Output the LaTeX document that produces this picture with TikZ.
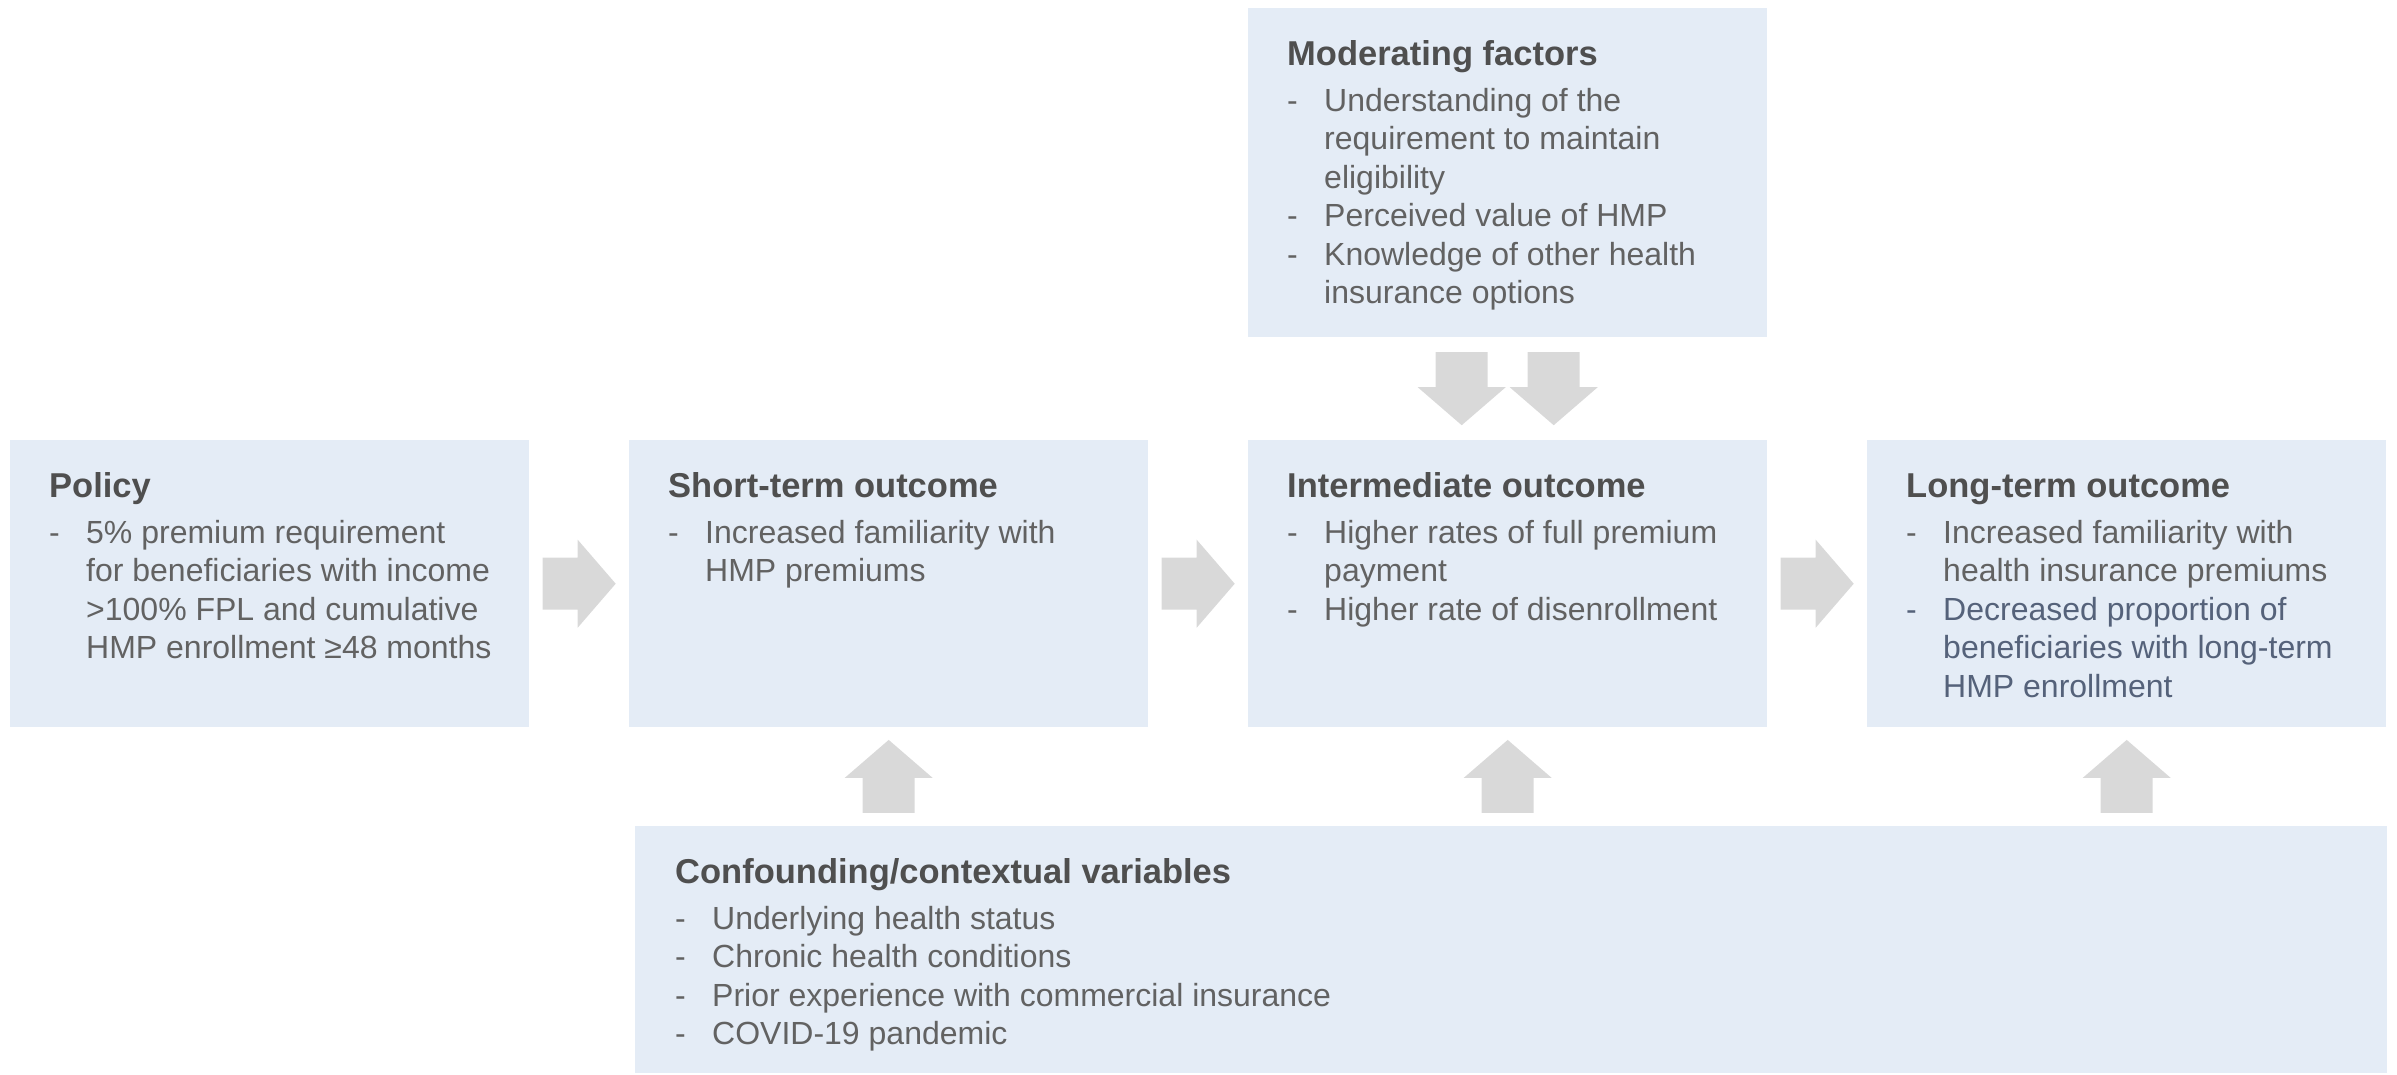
\documentclass[tikz,border=0pt]{standalone}
\usepackage{fontspec}
\setmainfont{Liberation Sans}
\usetikzlibrary{calc}
\definecolor{boxblue}{HTML}{E4ECF6}
\definecolor{arrgray}{HTML}{D9D9D9}
\definecolor{txtgray}{HTML}{626262}
\definecolor{hdgray}{HTML}{4F4F4F}
\definecolor{bluegray}{HTML}{55627A}
\newcommand\hd[1]{\multicolumn{2}{@{}l@{}}{\color{hdgray}\fontsize{34.5}{38.5}\selectfont\bfseries #1}}
\newcommand\dsh{\makebox[37pt][l]{-}}
\newcommand\rarr[1]{\fill[arrgray, shift={(#1)}] (-36.5,-26) -- (-1.5,-26) -- (-1.5,-44) -- (36.5,0) -- (-1.5,44) -- (-1.5,26) -- (-36.5,26) -- cycle;}
\newcommand\darr[1]{\fill[arrgray, shift={(#1)}] (-26,-36.5) -- (-26,-1.5) -- (-44,-1.5) -- (0,36.5) -- (44,-1.5) -- (26,-1.5) -- (26,-36.5) -- cycle;}
\newcommand\uarr[1]{\fill[arrgray, shift={(#1)}] (-26,36.5) -- (-26,1.5) -- (-44,1.5) -- (0,-36.5) -- (44,1.5) -- (26,1.5) -- (26,36.5) -- cycle;}
\tikzset{
  box/.style={fill=boxblue, draw=none, anchor=north west, inner sep=0pt, minimum height=287pt, minimum width=519pt},
  txt/.style={anchor=base west, inner sep=0pt, text=txtgray, font=\fontsize{32}{38.5}\selectfont},
}
\begin{document}
\begin{tikzpicture}[x=1pt, y=-1pt]
\useasboundingbox (0,0) rectangle (2397,1074);
% boxes
\node[box] (policy) at (10,440) {};
\node[box] (short) at (629,440) {};
\node[box] (inter) at (1248,440) {};
\node[box] (long) at (1867,440) {};
\node[box, minimum height=329pt] (mod) at (1248,8) {};
\node[box, minimum height=247pt, minimum width=1752pt] (conf) at (635,826) {};
% texts
\node[txt] (policyT) at ($(policy.north west)+(39,57)$) {\begin{tabular}[t]{@{}l@{}l@{}}
\hd{Policy}\\[7.5pt]
\dsh & 5\% premium requirement\\
 & for beneficiaries with income\\
 & >100\% FPL and cumulative\\
 & HMP enrollment ≥48 months
\end{tabular}};
\node[txt] (shortT) at ($(short.north west)+(39,57)$) {\begin{tabular}[t]{@{}l@{}l@{}}
\hd{Short-term outcome}\\[7.5pt]
\dsh & Increased familiarity with\\
 & HMP premiums
\end{tabular}};
\node[txt] (interT) at ($(inter.north west)+(39,57)$) {\begin{tabular}[t]{@{}l@{}l@{}}
\hd{Intermediate outcome}\\[7.5pt]
\dsh & Higher rates of full premium\\
 & payment\\
\dsh & Higher rate of disenrollment
\end{tabular}};
\node[txt] (longT) at ($(long.north west)+(39,57)$) {\begin{tabular}[t]{@{}l@{}l@{}}
\hd{Long-term outcome}\\[7.5pt]
\dsh & Increased familiarity with\\
 & health insurance premiums\\
\color{bluegray}\dsh & \color{bluegray}Decreased proportion of\\
 & \color{bluegray}beneficiaries with long-term\\
 & \color{bluegray}HMP enrollment
\end{tabular}};
\node[txt] (modT) at ($(mod.north west)+(39,57)$) {\begin{tabular}[t]{@{}l@{}l@{}}
\hd{Moderating factors}\\[7.5pt]
\dsh & Understanding of the\\
 & requirement to maintain\\
 & eligibility\\
\dsh & Perceived value of HMP\\
\dsh & Knowledge of other health\\
 & insurance options
\end{tabular}};
\node[txt] (confT) at ($(conf.north west)+(40,57)$) {\begin{tabular}[t]{@{}l@{}l@{}}
\hd{Confounding/contextual variables}\\[7.5pt]
\dsh & Underlying health status\\
\dsh & Chronic health conditions\\
\dsh & Prior experience with commercial insurance\\
\dsh & COVID-19 pandemic
\end{tabular}};
% block arrows
\coordinate (ra1) at ($(policy.east)!0.5!(short.west)$);
\coordinate (ra2) at ($(short.east)!0.5!(inter.west)$);
\coordinate (ra3) at ($(inter.east)!0.5!(long.west)$);
\coordinate (da1) at ($(mod.south)!0.5!(inter.north)+(-46,0)$);
\coordinate (da2) at ($(mod.south)!0.5!(inter.north)+(46,0)$);
\coordinate (ua1) at ($(short.south)+(0,49)$);
\coordinate (ua2) at ($(inter.south)+(0,49)$);
\coordinate (ua3) at ($(long.south)+(0,49)$);
\rarr{ra1}\rarr{ra2}\rarr{ra3}
\darr{da1}\darr{da2}
\uarr{ua1}\uarr{ua2}\uarr{ua3}
\end{tikzpicture}
\end{document}
